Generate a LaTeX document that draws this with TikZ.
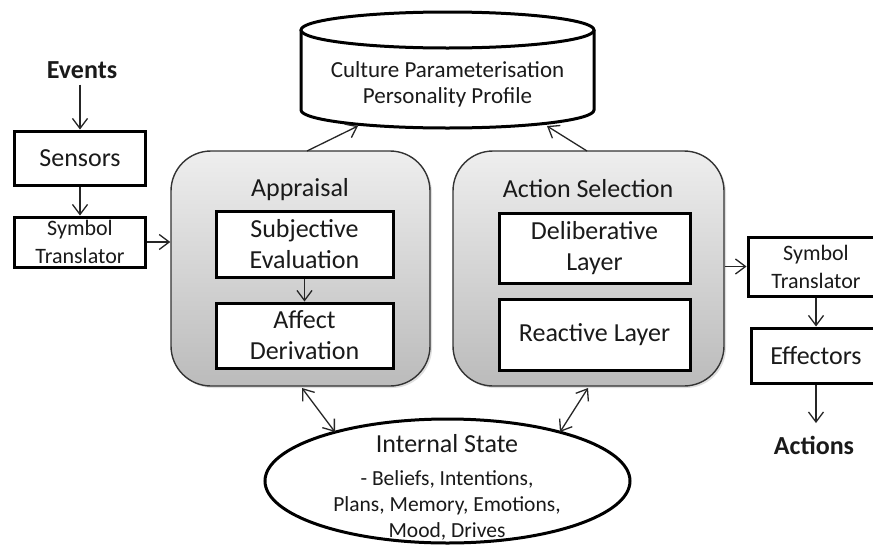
\documentclass[tikz,border=0pt]{standalone}
\usepackage{fontspec}
\setmainfont{Carlito}
\usetikzlibrary{arrows.meta,shapes.geometric,shadows}
\definecolor{txtc}{HTML}{1A1A1A}
\definecolor{gtop}{HTML}{EEEEEE}
\definecolor{gbot}{HTML}{BBBBBB}
\definecolor{rbord}{HTML}{333333}
\definecolor{arrc}{HTML}{262626}
\newcommand\dgBig{\fontsize{26}{31}\selectfont}
\newcommand\dgSmall{\fontsize{22}{28}\selectfont}
\newcommand\dgSmallB{\fontsize{21.5}{26}\selectfont}
\newcommand\dgCyl{\fontsize{23}{26}\selectfont}
\begin{document}
\begin{tikzpicture}[x=1pt,y=1pt,
  thickbox/.style={draw=black, line width=3pt, fill=white, inner sep=0pt, align=center, text=txtc},
  roundbox/.style={draw=rbord, line width=1.4pt, rounded corners=40pt, top color=gtop, bottom color=gbot, inner sep=0pt,
     drop shadow={opacity=0.25, shadow xshift=2pt, shadow yshift=-2pt}},
  lbl/.style={text=txtc, inner sep=0pt, align=center},
  arr/.style={draw=arrc, line width=1.3pt, -{Straight Barb[length=10pt, width=15pt]}},
  darr/.style={draw=arrc, line width=1.3pt, {Straight Barb[length=10pt, width=15pt]}-{Straight Barb[length=10pt, width=15pt]}},
  thickline/.style={draw=black, line width=3pt}
]
\useasboundingbox (0,0) rectangle (873,-544);
\begin{scope}
\clip (0,0) rectangle (873,-544);
\fill[white] (0,0) rectangle (873,-544);

% left column
\node[lbl, font=\dgBig\bfseries] (events) at (82,-70) {Events};
\node[thickbox, font=\dgBig, minimum width=131, minimum height=54] (sensors) at (80,-158) {Sensors};
\node[thickbox, font=\dgSmall, minimum width=131, minimum height=50] (symL) at (80,-242) {Symbol\\Translator};

% cylinder
\fill[white] (301,-30) -- (301,-110) arc[start angle=180, end angle=360, x radius=146.5, y radius=18] -- (594,-30) -- cycle;
\draw[thickline] (301,-30) -- (301,-110) arc[start angle=180, end angle=360, x radius=146.5, y radius=18] -- (594,-30);
\draw[thickline, fill=white] (447.5,-30) ellipse [x radius=146.5, y radius=18];
\node[lbl, font=\dgCyl] (cyl) at (447.5,-84) {Culture Parameterisation\\Personality Profile};

% appraisal
\node[roundbox, minimum width=259, minimum height=235] (appraisal) at (300.5,-268.5) {};
\node[lbl, font=\dgBig, anchor=base] (aptitle) at (300,-196) {Appraisal};
\node[thickbox, font=\dgBig, minimum width=177, minimum height=66] (subj) at (304.5,-244) {Subjective\\Evaluation};
\node[thickbox, font=\dgBig, minimum width=177, minimum height=65] (affect) at (304.5,-335.5) {Affect\\Derivation};

% action selection
\node[roundbox, minimum width=271, minimum height=235] (actsel) at (588.5,-268.5) {};
\node[lbl, font=\dgBig, anchor=base] (astitle) at (588,-197) {Action Selection};
\node[thickbox, font=\dgBig, minimum width=191, minimum height=70] (delib) at (594.5,-248) {Deliberative\\Layer};
\node[thickbox, font=\dgBig, minimum width=191, minimum height=71] (react) at (594.5,-334.5) {Reactive Layer};

% right column
\node[thickbox, font=\dgSmall, minimum width=136, minimum height=59] (symR) at (816,-266.5) {Symbol\\Translator};
\node[thickbox, font=\dgBig, minimum width=130, minimum height=55] (effectors) at (816,-355.5) {Effectors};
\node[lbl, font=\dgBig\bfseries] (actions) at (814,-445.5) {Actions};

% internal state
\node[draw=black, line width=3pt, fill=white, ellipse, minimum width=365, minimum height=124, inner sep=0pt] (state) at (447.5,-481) {};
\node[lbl, font=\dgBig, anchor=base] (sttitle) at (447,-452) {Internal State};
\node[lbl, font=\dgSmallB, anchor=base] (st1) at (447,-485) {- Beliefs, Intentions,};
\node[lbl, font=\dgSmallB, anchor=base] (st2) at (447,-511) {Plans, Memory, Emotions,};
\node[lbl, font=\dgSmallB, anchor=base] (st3) at (447,-537) {Mood, Drives};

% connector end points
\coordinate (apTop) at (307,-151);
\coordinate (cylA) at (358,-126);
\coordinate (asTop) at (587,-151);
\coordinate (cylB) at (547,-126);
\coordinate (apBot) at (302,-388);
\coordinate (stA) at (335,-432);
\coordinate (asBot) at (588,-388);
\coordinate (stB) at (560,-432);

% connectors
\draw[arr, shorten <=6pt] (events.south -| sensors.north) -- (sensors.north);
\draw[arr] (sensors.south) -- (symL.north);
\draw[arr] (symL.east) -- (symL.east -| appraisal.west);
\draw[arr] (subj.south) -- (affect.north);
\draw[arr] (actsel.east |- symR.west) -- (symR.west);
\draw[arr] (symR.south) -- (effectors.north);
\draw[arr, shorten >=13pt] (effectors.south) -- (actions.north -| effectors.south);
\draw[arr] (apTop) -- (cylA);
\draw[arr] (asTop) -- (cylB);
\draw[darr] (apBot) -- (stA);
\draw[darr] (asBot) -- (stB);
\end{scope}
\end{tikzpicture}
\end{document}
